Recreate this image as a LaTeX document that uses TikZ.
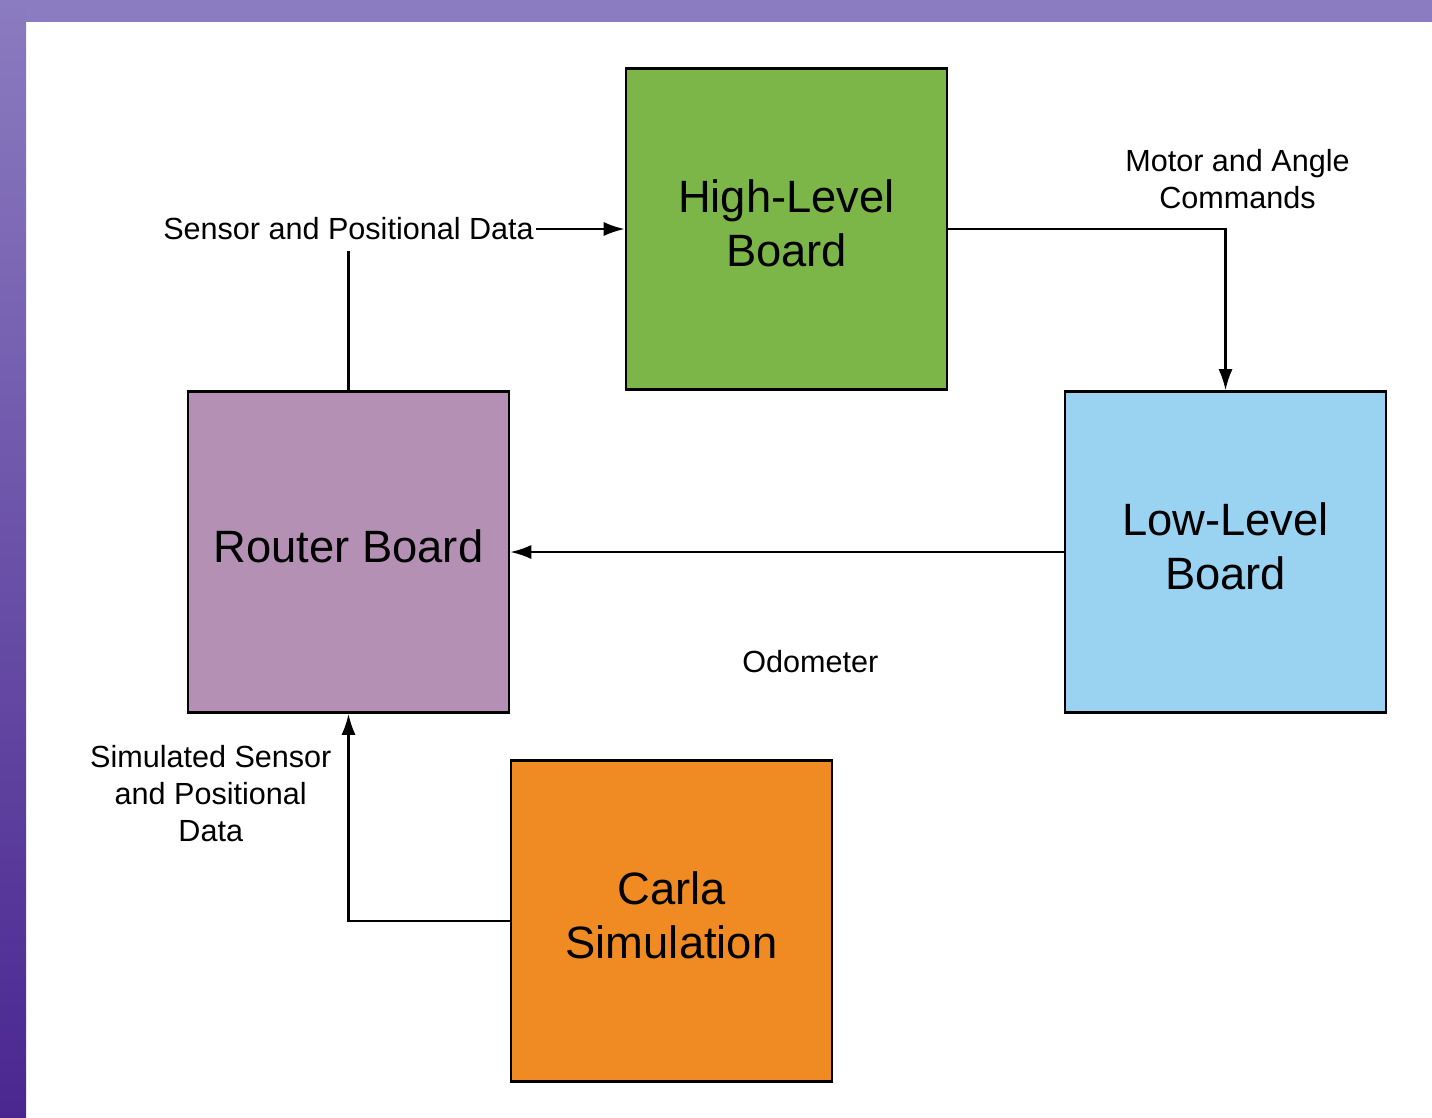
\documentclass[tikz,border=0pt]{standalone}
\usepackage{fontspec}
\setmainfont{Liberation Sans}
\usepackage{xcolor}
\usepackage{tikz}
\usetikzlibrary{shapes.geometric, arrows.meta}
\definecolor{highgreen}{HTML}{7CB649}
\definecolor{lowblue}{HTML}{9AD2F1}
\definecolor{routerpurple}{HTML}{B491B4}
\definecolor{carlaorange}{HTML}{EF8B22}
\definecolor{frametop}{HTML}{8B7BC0}
\definecolor{framebottom}{HTML}{4A2790}
\tikzstyle{board} = [rectangle, minimum width=6.42cm, minimum height=6.42cm, inner sep=0pt, text depth=7pt, text centered, align=center, draw=black, line width=1.4pt, font=\fontsize{25.8}{31}\selectfont]
\tikzstyle{note} = [align=center, font=\fontsize{17.4}{21}\selectfont]
\tikzstyle{arrow} = [line width=1.4pt, ->, >={Latex[length=12pt,width=8pt]}]

\begin{document}
\begin{tikzpicture}[x=0.02cm, y=-0.02cm]
	% page frame
	\useasboundingbox (0,0) rectangle (1432,1117);
	\fill [frametop] (0,0) rectangle (1432,22);
	\shade [top color=frametop, bottom color=framebottom] (0,0) rectangle (26,1117);
	% boards
	\node (high) [board, fill=highgreen] at (786.5,229) {High-Level\\Board};
	\node (router) [board, fill=routerpurple] at (348.5,552) {Router Board};
	\node (low) [board, fill=lowblue] at (1225.5,552) {Low-Level\\Board};
	\node (carla) [board, fill=carlaorange] at (671.5,921) {Carla\\Simulation};
	% connections
	\draw [arrow] (router.north) |- node[note, fill=white, inner xsep=1pt, inner ysep=6pt] {Sensor and Positional Data} (high.west);
	\draw [arrow] (high.east) -| node[note, above=0.26cm, xshift=0.24cm] {Motor and Angle\\Commands} (low.north);
	\draw [arrow] (low.west) -- node[note, pos=0.458, below=1.83cm] {Odometer} (router.east);
	\draw [arrow] (carla.west) -| node[note, pos=0.808, left=0.2cm] {Simulated Sensor\\and Positional\\Data} (router.south);
\end{tikzpicture}
\end{document}
